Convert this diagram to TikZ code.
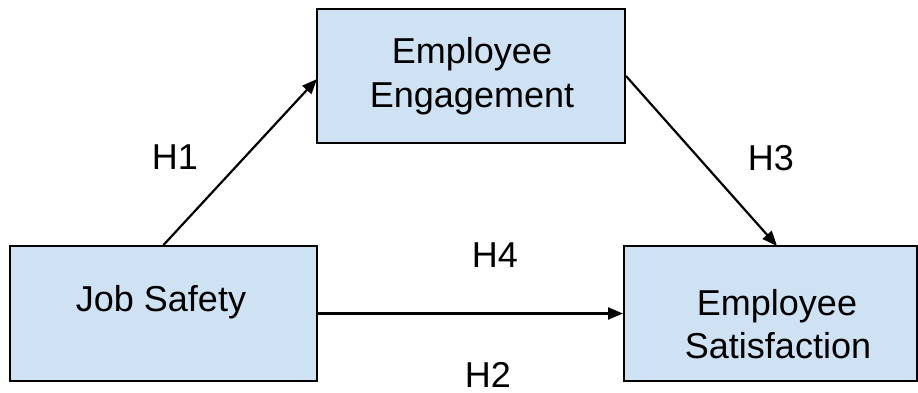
\documentclass[tikz,border=0pt]{standalone}
\usepackage{fontspec}
\setmainfont{Liberation Sans}
\usetikzlibrary{arrows.meta}
\definecolor{boxfill}{HTML}{CFE2F3}
\begin{document}
\begin{tikzpicture}[x=1pt,y=-1pt,
  box/.style={draw=black, line width=2pt, fill=boxfill, inner sep=0pt},
  txt/.style={anchor=base, inner sep=0pt, font=\fontsize{36}{43}\selectfont},
  conn/.style={draw=black, line width=2.2pt, -{Triangle[length=15pt,width=12pt]}}]
\useasboundingbox (0,0) rectangle (918,392);
\node[box, minimum width=307pt, minimum height=135pt] (job) at (163.5,313.5) {};
\node[box, minimum width=308pt, minimum height=134pt] (eng) at (471,76) {};
\node[box, minimum width=293pt, minimum height=135pt] (sat) at (770.5,313.5) {};
\node[txt] (jobt) at (161,311) {Job Safety};
\node[txt] (engt1) at (472,63) {Employee};
\node[txt] (engt2) at (472,107) {Engagement};
\node[txt] (satt1) at (777,315) {Employee};
\node[txt] (satt2) at (778,358) {Satisfaction};
\coordinate (engin) at (317,79);
\coordinate (satin) at (777,246);
\draw[conn] (job.north) -- (engin);
\draw[conn] (eng.east) -- (satin);
\draw[conn] (job.east) -- (sat.west);
\node[txt] (h1) at (175,169) {H1};
\node[txt] (h3) at (771,170) {H3};
\node[txt] (h4) at (495,267) {H4};
\node[txt] (h2) at (488,387) {H2};
\end{tikzpicture}
\end{document}
